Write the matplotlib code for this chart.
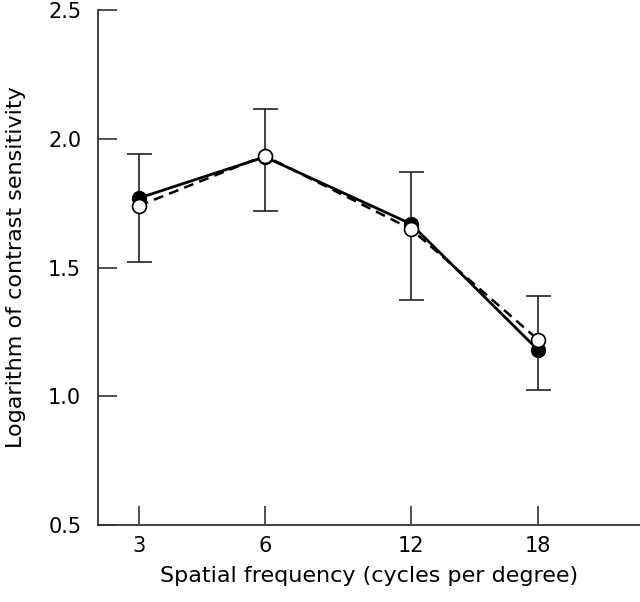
import numpy as np
import matplotlib.pyplot as plt

# spatial frequency (cycles per degree)
freq_labels = ['3', '6', '12', '18']
# solid line, filled circles
filled = [1.77, 1.93, 1.67, 1.18]
# dashed line, open circles
opened = [1.74, 1.935, 1.65, 1.22]
# error bar ends
err_top = [1.94, 2.115, 1.87, 1.39]
err_bot = [1.52, 1.72, 1.375, 1.025]

# tick positions as drawn in the figure (not evenly spaced)
xpos = np.array([0.0, 1.0, 2.16, 3.17])

fig = plt.figure(figsize=(6.4, 6.02), dpi=100)
ax = fig.add_axes([0.153, 0.128, 0.847, 0.855])

centre = [(t + b) / 2 for t, b in zip(err_top, err_bot)]
yerr = [np.array(centre) - np.array(err_bot), np.array(err_top) - np.array(centre)]
ax.errorbar(xpos, centre, yerr=yerr, fmt='none', ecolor='#222222',
            elinewidth=1.2, capsize=9, capthick=1.2, zorder=1)

ax.plot(xpos, opened, color='black', lw=1.8, ls=(0, (4, 2.5)), zorder=2)
ax.plot(xpos, filled, color='black', lw=2.0, marker='o', ms=10,
        mfc='black', mec='black', zorder=3)
ax.plot(xpos, opened, color='none', marker='o', ms=10,
        mfc='white', mec='black', mew=1.2, zorder=4)

ax.set_xlim(-0.325, 3.98)
ax.set_ylim(0.5, 2.5)
ax.set_xticks(xpos)
ax.set_xticklabels(freq_labels)
ax.set_yticks([0.5, 1.0, 1.5, 2.0, 2.5])
ax.set_yticklabels(['0.5', '1.0', '1.5', '2.0', '2.5'])

for s in ['top', 'right']:
    ax.spines[s].set_visible(False)
for s in ['left', 'bottom']:
    ax.spines[s].set_color('#333333')
    ax.spines[s].set_linewidth(1.3)

ax.tick_params(direction='in', length=14, width=1.2, color='#333333',
               labelsize=15, pad=8)
ax.tick_params(axis='y', pad=12)

ax.set_xlabel('Spatial frequency (cycles per degree)', fontsize=16, labelpad=7)
ax.set_ylabel('Logarithm of contrast sensitivity', fontsize=16, labelpad=16)

fig.savefig('out.png', dpi=100)
